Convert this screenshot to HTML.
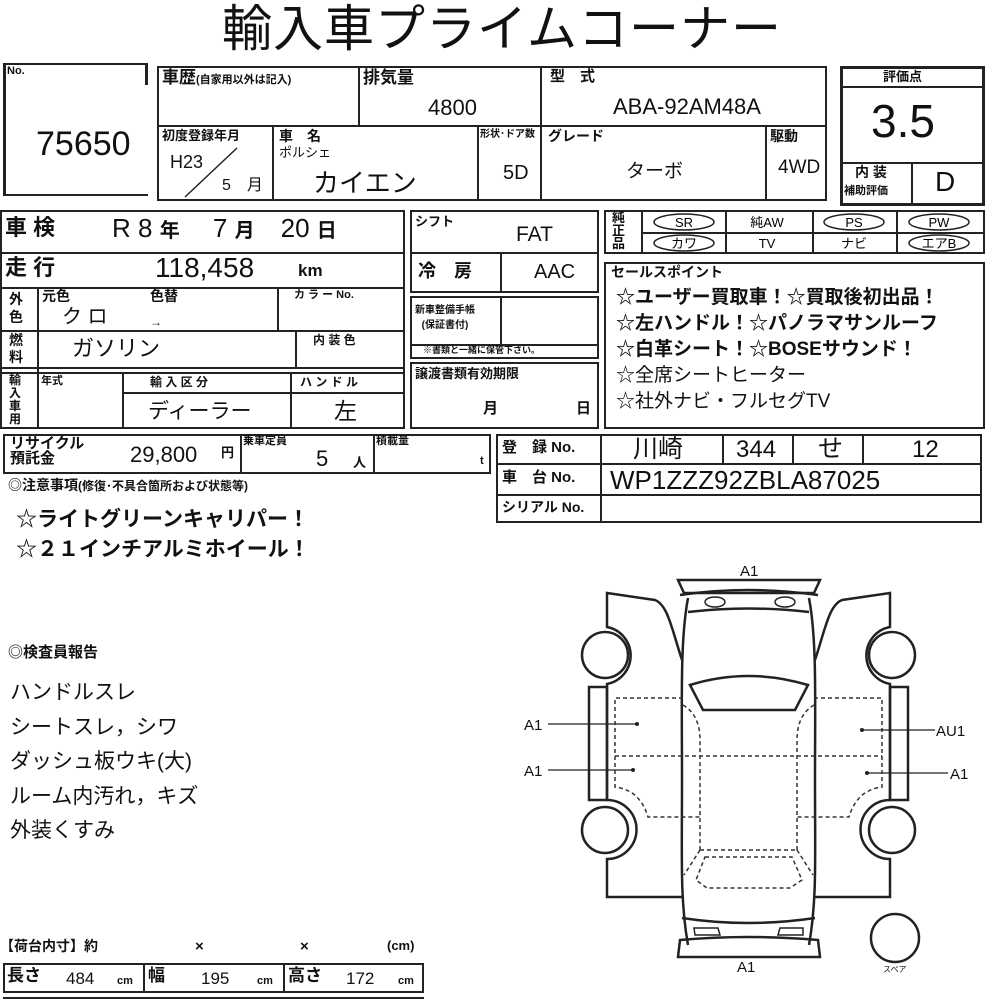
<!DOCTYPE html>
<html><head><meta charset="utf-8"><style>
body{margin:0;background:#fff;}
#p{position:relative;width:1000px;height:1000px;overflow:hidden;font-family:"Liberation Sans","Noto Sans CJK JP",sans-serif;color:#111;}
.b{position:absolute;border:2px solid #222;box-sizing:border-box;}
.h{position:absolute;height:0;border-top:2px solid #222;}
.v{position:absolute;width:0;border-left:2px solid #222;}
.t{position:absolute;white-space:nowrap;line-height:1;}
.s{font-size:13px;font-weight:bold;}
.m{font-size:22px;}
</style></head><body><div id="p">
<div class="t" style="left:222px;top:4px;font-size:50px;letter-spacing:1px">輸入車プライムコーナー</div>

<!-- No box -->
<div class="v" style="left:3px;top:63px;height:133px;border-left-width:3px"></div>
<div class="h" style="left:3px;top:63px;width:145px"></div>
<div class="v" style="left:145px;top:63px;height:22px;border-left-width:3px"></div>
<div class="h" style="left:3px;top:194px;width:145px"></div>
<div class="t" style="left:7px;top:66px;font-size:11px;font-weight:bold">No.</div>
<div class="t" style="left:36px;top:127px;font-size:34px">75650</div>

<!-- top table -->
<div class="b" style="left:157px;top:66px;width:670px;height:135px"></div>
<div class="h" style="left:157px;top:125px;width:670px"></div>
<div class="v" style="left:358px;top:66px;height:60px"></div>
<div class="v" style="left:540px;top:66px;height:135px"></div>
<div class="v" style="left:272px;top:125px;height:76px"></div>
<div class="v" style="left:477px;top:125px;height:76px"></div>
<div class="v" style="left:765px;top:125px;height:76px"></div>
<div class="t" style="left:162px;top:69px;font-size:17px;font-weight:bold">車歴<span style="font-size:11px">(自家用以外は記入)</span></div>
<div class="t" style="left:363px;top:69px;font-size:17px;font-weight:bold">排気量</div>
<div class="t" style="left:428px;top:97px;font-size:22px">4800</div>
<div class="t" style="left:550px;top:69px;font-size:15px;font-weight:bold">型　式</div>
<div class="t" style="left:613px;top:96px;font-size:22px">ABA-92AM48A</div>
<div class="t s" style="left:162px;top:129px">初度登録年月</div>
<div class="t" style="left:170px;top:153px;font-size:18px">H23</div>
<svg style="position:absolute;left:180px;top:145px" width="60" height="55"><line x1="57" y1="3" x2="5" y2="52" stroke="#222" stroke-width="1.5"/></svg>
<div class="t" style="left:222px;top:178px;font-size:16px">5　月</div>
<div class="t s" style="left:279px;top:129px;font-size:14px">車　名</div>
<div class="t" style="left:279px;top:146px;font-size:13px">ポルシェ</div>
<div class="t" style="left:313px;top:170px;font-size:26px">カイエン</div>
<div class="t" style="left:480px;top:130px;font-size:10px;font-weight:bold">形状･ドア数</div>
<div class="t" style="left:503px;top:163px;font-size:20px">5D</div>
<div class="t" style="left:548px;top:129px;font-size:14px;font-weight:bold">グレード</div>
<div class="t" style="left:626px;top:162px;font-size:19px">ターボ</div>
<div class="t" style="left:770px;top:129px;font-size:14px;font-weight:bold">駆動</div>
<div class="t" style="left:778px;top:158px;font-size:19px">4WD</div>

<!-- 評価点 -->
<div class="b" style="left:840px;top:66px;width:145px;height:140px;border-width:3px"></div>
<div class="h" style="left:840px;top:86px;width:145px"></div>
<div class="h" style="left:840px;top:162px;width:145px"></div>
<div class="v" style="left:911px;top:162px;height:44px"></div>
<div class="t s" style="left:883px;top:70px">評価点</div>
<div class="t" style="left:871px;top:98px;font-size:46px">3.5</div>
<div class="t" style="left:855px;top:165px;font-size:14px;font-weight:bold">内 装</div>
<div class="t" style="left:844px;top:186px;font-size:11px;font-weight:bold">補助評価</div>
<div class="t" style="left:935px;top:168px;font-size:28px">D</div>

<!-- left block -->
<div class="b" style="left:0px;top:210px;width:405px;height:219px"></div>
<div class="h" style="left:0px;top:252px;width:405px"></div>
<div class="h" style="left:0px;top:287px;width:405px"></div>
<div class="h" style="left:0px;top:330px;width:405px"></div>
<div class="h" style="left:0px;top:367px;width:405px"></div>
<div class="h" style="left:0px;top:372px;width:405px"></div>
<div class="v" style="left:37px;top:287px;height:142px"></div>
<div class="v" style="left:277px;top:287px;height:44px"></div>
<div class="v" style="left:295px;top:330px;height:38px"></div>
<div class="v" style="left:122px;top:372px;height:57px"></div>
<div class="v" style="left:290px;top:372px;height:57px"></div>
<div class="h" style="left:122px;top:392px;width:283px"></div>
<div class="t" style="left:5px;top:217px;font-size:22px;font-weight:bold">車 検</div>
<div class="t" style="left:112px;top:215px;font-size:26px">R 8 <span style="font-size:20px;font-weight:bold">年</span>　 7 <span style="font-size:20px;font-weight:bold">月</span>　20 <span style="font-size:20px;font-weight:bold">日</span></div>
<div class="t" style="left:5px;top:257px;font-size:22px;font-weight:bold">走 行</div>
<div class="t" style="left:155px;top:254px;font-size:28px">118,458</div>
<div class="t" style="left:298px;top:262px;font-size:17px;font-weight:bold">km</div>
<div class="t s" style="left:9px;top:290px;font-size:14px;line-height:18px;white-space:normal;width:16px">外色</div>
<div class="t s" style="left:42px;top:289px;font-size:14px">元色</div>
<div class="t s" style="left:150px;top:289px;font-size:14px">色替</div>
<div class="t" style="left:62px;top:307px;font-size:20px">ク ロ</div>
<div class="t" style="left:150px;top:316px;font-size:12px">→</div>
<div class="t s" style="left:294px;top:290px;font-size:11px">カ ラ ー No.</div>
<div class="t s" style="left:9px;top:332px;font-size:14px;line-height:17px;white-space:normal;width:16px">燃料</div>
<div class="t" style="left:72px;top:338px;font-size:22px">ガソリン</div>
<div class="t s" style="left:313px;top:334px;font-size:12px">内 装 色</div>
<div class="t" style="left:9px;top:374px;font-size:12px;font-weight:bold;line-height:13px;white-space:normal;width:14px">輸入車用</div>
<div class="t s" style="left:41px;top:376px;font-size:11px">年式</div>
<div class="t s" style="left:150px;top:376px;font-size:12px">輸 入 区 分</div>
<div class="t s" style="left:300px;top:376px;font-size:12px">ハ ン ド ル</div>
<div class="t" style="left:148px;top:401px;font-size:21px">ディーラー</div>
<div class="t" style="left:334px;top:400px;font-size:23px">左</div>

<div class="b" style="left:3px;top:434px;width:488px;height:40px"></div>
<div class="v" style="left:240px;top:434px;height:40px"></div>
<div class="v" style="left:373px;top:434px;height:40px"></div>
<div class="t" style="left:10px;top:436px;font-size:15px;font-weight:bold;line-height:15px">リサイクル<br>預託金</div>
<div class="t" style="left:130px;top:444px;font-size:22px">29,800</div>
<div class="t s" style="left:221px;top:446px">円</div>
<div class="t s" style="left:243px;top:436px;font-size:11px">乗車定員</div>
<div class="t" style="left:316px;top:448px;font-size:22px">5</div>
<div class="t s" style="left:353px;top:456px;font-size:13px">人</div>
<div class="t s" style="left:376px;top:436px;font-size:11px">積載量</div>
<div class="t s" style="left:480px;top:456px;font-size:11px">t</div>

<!-- middle column -->
<div class="b" style="left:410px;top:210px;width:189px;height:83px"></div>
<div class="h" style="left:410px;top:252px;width:189px"></div>
<div class="v" style="left:500px;top:252px;height:41px"></div>
<div class="t s" style="left:415px;top:215px">シフト</div>
<div class="t" style="left:516px;top:224px;font-size:21px">FAT</div>
<div class="t" style="left:418px;top:262px;font-size:18px;font-weight:bold">冷　房</div>
<div class="t" style="left:534px;top:262px;font-size:20px">AAC</div>
<div class="b" style="left:410px;top:296px;width:189px;height:63px"></div>
<div class="v" style="left:500px;top:296px;height:49px"></div>
<div class="h" style="left:410px;top:344px;width:189px"></div>
<div class="t" style="left:415px;top:303px;font-size:10px;font-weight:bold;line-height:15px;text-align:center">新車整備手帳<br>(保証書付)</div>
<div class="t" style="left:423px;top:346px;font-size:9px;font-weight:bold">※書類と一緒に保管下さい。</div>
<div class="b" style="left:410px;top:362px;width:189px;height:67px"></div>
<div class="t s" style="left:415px;top:367px">譲渡書類有効期限</div>
<div class="t s" style="left:483px;top:401px;font-size:15px">月</div>
<div class="t s" style="left:576px;top:401px;font-size:15px">日</div>

<!-- 純正品 -->
<div class="b" style="left:604px;top:210px;width:381px;height:44px"></div>
<div class="h" style="left:641px;top:232px;width:344px"></div>
<div class="v" style="left:641px;top:210px;height:44px"></div>
<div class="v" style="left:725px;top:210px;height:44px"></div>
<div class="v" style="left:812px;top:210px;height:44px"></div>
<div class="v" style="left:896px;top:210px;height:44px"></div>
<div class="t" style="left:612px;top:211px;font-size:13px;font-weight:bold;line-height:13px">純<br>正<br>品</div>
<svg style="position:absolute;left:604px;top:210px" width="381" height="44" font-family="Liberation Sans,Noto Sans CJK JP,sans-serif" font-size="13" text-anchor="middle">
<g fill="none" stroke="#222" stroke-width="1.5">
<ellipse cx="80" cy="12" rx="30" ry="8"/><ellipse cx="250" cy="12" rx="30" ry="8"/><ellipse cx="335" cy="12" rx="30" ry="8"/>
<ellipse cx="80" cy="33" rx="30" ry="8"/><ellipse cx="335" cy="33" rx="30" ry="8"/></g>
<text x="80" y="17">SR</text><text x="163" y="17">純AW</text><text x="250" y="17">PS</text><text x="335" y="17">PW</text>
<text x="80" y="38">カワ</text><text x="163" y="38">TV</text><text x="250" y="38">ナビ</text><text x="335" y="38">エアB</text></svg>
<div class="b" style="left:604px;top:262px;width:381px;height:167px"></div>
<div class="t s" style="left:611px;top:265px;font-size:14px">セールスポイント</div>
<div class="t" style="left:616px;top:285px;font-size:19px;font-weight:bold;line-height:26px">☆ユーザー買取車！☆買取後初出品！<br>☆左ハンドル！☆パノラマサンルーフ<br>☆白革シート！☆BOSEサウンド！<br><span style="font-weight:normal">☆全席シートヒーター<br>☆社外ナビ・フルセグTV</span></div>

<!-- 登録 -->
<div class="b" style="left:496px;top:434px;width:486px;height:89px"></div>
<div class="h" style="left:496px;top:463px;width:486px"></div>
<div class="h" style="left:496px;top:494px;width:486px"></div>
<div class="v" style="left:600px;top:434px;height:89px"></div>
<div class="v" style="left:722px;top:434px;height:30px"></div>
<div class="v" style="left:792px;top:434px;height:30px"></div>
<div class="v" style="left:862px;top:434px;height:30px"></div>
<div class="t s" style="left:502px;top:440px;font-size:15px">登　録 No.</div>
<div class="t s" style="left:502px;top:470px;font-size:15px">車　台 No.</div>
<div class="t s" style="left:502px;top:500px;font-size:14px">シリアル No.</div>
<div class="t" style="left:633px;top:437px;font-size:25px">川崎</div>
<div class="t" style="left:736px;top:438px;font-size:24px">344</div>
<div class="t" style="left:818px;top:437px;font-size:25px">せ</div>
<div class="t" style="left:912px;top:438px;font-size:24px">12</div>
<div class="t" style="left:610px;top:467px;font-size:26px">WP1ZZZ92ZBLA87025</div>

<!-- notes -->
<div class="t" style="left:8px;top:478px;font-size:14px;font-weight:bold">◎注意事項<span style="font-size:12px">(修復･不具合箇所および状態等)</span></div>
<div class="t" style="left:16px;top:505px;font-size:21px;font-weight:bold;line-height:30px">☆ライトグリーンキャリパー！<br>☆２１インチアルミホイール！</div>
<div class="t" style="left:8px;top:645px;font-size:15px;font-weight:bold">◎検査員報告</div>
<div class="t" style="left:10px;top:676px;font-size:21px;line-height:34.5px">ハンドルスレ<br>シートスレ，シワ<br>ダッシュ板ウキ(大)<br>ルーム内汚れ，キズ<br>外装くすみ</div>

<!-- 荷台 -->
<div class="t s" style="left:0px;top:939px;font-size:14px">【荷台内寸】約</div>
<div class="t s" style="left:195px;top:939px;font-size:15px">×</div>
<div class="t s" style="left:300px;top:939px;font-size:15px">×</div>
<div class="t s" style="left:387px;top:939px;font-size:13px">(cm)</div>
<div class="b" style="left:3px;top:963px;width:421px;height:30px"></div>
<div class="v" style="left:143px;top:963px;height:30px"></div>
<div class="v" style="left:283px;top:963px;height:30px"></div>
<div class="h" style="left:3px;top:997px;width:421px"></div>
<div class="t" style="left:7px;top:967px;font-size:17px;font-weight:bold">長さ</div>
<div class="t" style="left:66px;top:970px;font-size:17px">484</div>
<div class="t s" style="left:117px;top:976px;font-size:11px">cm</div>
<div class="t" style="left:148px;top:967px;font-size:17px;font-weight:bold">幅</div>
<div class="t" style="left:201px;top:970px;font-size:17px">195</div>
<div class="t s" style="left:257px;top:976px;font-size:11px">cm</div>
<div class="t" style="left:288px;top:967px;font-size:17px;font-weight:bold">高さ</div>
<div class="t" style="left:346px;top:970px;font-size:17px">172</div>
<div class="t s" style="left:398px;top:976px;font-size:11px">cm</div>

<!-- car diagram -->
<svg style="position:absolute;left:0;top:0" width="1000" height="1000" font-family="Liberation Sans,sans-serif" font-size="15">
<g fill="none" stroke="#222" stroke-width="2.5">
<path id="lp" d="M682,660 C672,630 668,605 655,600 L607,593 L607,627 A29,29 0 0 1 607,684 L607,800 A29,29 0 0 1 607,859 L607,897 L682,897"/>
<use href="#lp" transform="translate(1497,0) scale(-1,1)"/>
<circle cx="605" cy="655" r="23"/><circle cx="605" cy="830" r="23"/>
<circle cx="892" cy="655" r="23"/><circle cx="892" cy="830" r="23"/>
<rect x="589" y="687" width="18" height="113"/><rect x="890" y="687" width="18" height="113"/>
<path d="M688,598 C680,640 682,700 682,780 C682,860 680,900 688,945"/>
<path d="M809,598 C817,640 815,700 815,780 C815,860 817,900 809,945"/>
<path d="M678,580 L820,580 L814,593 L684,593 Z"/>
<path d="M680,595 Q748,585 818,595"/>
<path d="M688,612 Q748,605 809,612"/>
<path d="M690,685 Q748,667 808,685 L795,710 L703,710 Z"/>
<path d="M682,918 Q748,928 815,918"/>
<path d="M680,940 Q748,934 818,940 L820,957 L678,957 Z"/>
<circle cx="895" cy="938" r="24"/>
</g>
<g fill="none" stroke="#222" stroke-width="1.5">
<ellipse cx="715" cy="602" rx="10" ry="5"/><ellipse cx="785" cy="602" rx="10" ry="5"/>
<path d="M694,928 L718,928 L720,935 L695,935 Z"/><path d="M778,935 L803,935 L803,928 L780,928 Z"/>
</g>
<g fill="none" stroke="#333" stroke-width="1.5" stroke-dasharray="4,3">
<path d="M683,698 L615,698 L615,787 Q640,790 648,817 L700,817"/>
<path d="M814,698 L882,698 L882,787 Q857,790 849,817 L797,817"/>
<path d="M615,756 L882,756"/>
<path d="M683,705 Q700,715 700,740 L700,850 M797,850 L797,740 Q797,715 814,705"/>
<path d="M700,850 L797,850 M700,850 L684,875 M797,850 L813,875"/>
<path d="M705,857 L792,857 L802,880 L790,888 L707,888 L696,880 Z"/>
</g>
<g stroke="#222" stroke-width="1.2">
<line x1="548" y1="724" x2="637" y2="724"/><line x1="548" y1="770" x2="633" y2="770"/>
<line x1="862" y1="730" x2="935" y2="730"/><line x1="867" y1="773" x2="948" y2="773"/>
</g>
<g fill="#222"><circle cx="637" cy="724" r="2"/><circle cx="633" cy="770" r="2"/><circle cx="862" cy="730" r="2"/><circle cx="867" cy="773" r="2"/></g>
<g fill="#111"><text x="524" y="730">A1</text><text x="524" y="776">A1</text><text x="936" y="736">AU1</text><text x="950" y="779">A1</text>
<text x="740" y="576">A1</text><text x="737" y="972">A1</text><text x="883" y="972" font-size="8" font-family="Noto Sans CJK JP,sans-serif">スペア</text></g>
</svg>
</div></body></html>
